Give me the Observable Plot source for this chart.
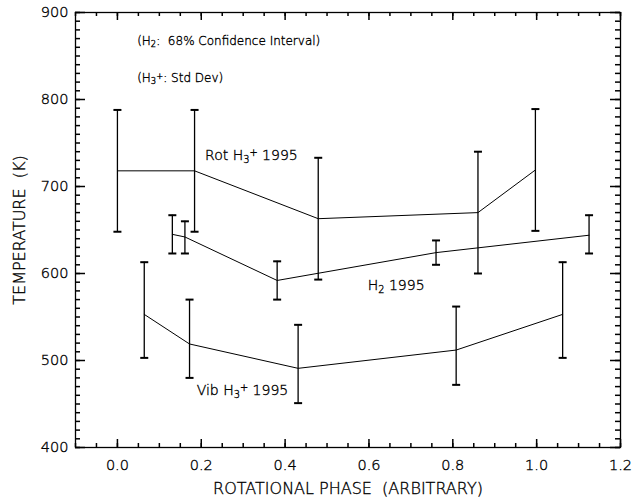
<!DOCTYPE html>
<html><head><meta charset="utf-8">
<script src="https://cdn.jsdelivr.net/npm/d3@7"></script>
<script src="https://cdn.jsdelivr.net/npm/@observablehq/plot@0.6"></script>
<style>
body{margin:0;background:#fff}
#chart svg{font-family:'DejaVu Sans',sans-serif;font-weight:200;color:black;background:white}
#chart svg text{white-space:pre; stroke:black; stroke-width:0.35px; fill:black}
</style>
</head><body><div id="chart"></div>
<script>
// Rot H3+ 1995
const rotX  = [0.000, 0.184, 0.479, 0.860, 0.997];
const rotY  = [718, 718, 663, 670, 719];
const rotLo = [648, 648, 593, 600, 649];
const rotHi = [788, 788, 733, 740, 789];
// H2 1995
const h2X  = [0.131, 0.161, 0.381, 0.760, 1.125];
const h2Y  = [645, 642, 592, 624, 644];
const h2Lo = [623, 623, 570, 610, 623];
const h2Hi = [667, 660, 614, 638, 667];
// Vib H3+ 1995
const vibX  = [0.064, 0.172, 0.431, 0.808, 1.062];
const vibY  = [553, 519, 491, 512, 553];
const vibLo = [503, 480, 451, 472, 503];
const vibHi = [613, 570, 541, 562, 613];

const xMajor = [0.0, 0.2, 0.4, 0.6, 0.8, 1.0, 1.2];
const yMajor = [400, 500, 600, 700, 800, 900];
const xMinor = d3.range(-2, 25).map(i => +(i * 0.05).toFixed(2));
const yMinor = d3.range(40, 91).map(i => i * 10);

const seriesLabels = ["Rot H_{3}^{+} 1995", "H_{2} 1995", "Vib H_{3}^{+} 1995"];
const seriesLabelX = [0.209, 0.597, 0.189];
const seriesLabelY = [736, 586, 465];
const notes = ["(H_{2}:  68% Confidence Interval)", "(H_{3}^{+}: Std Dev)"];
const noteX = [0.047, 0.047];
const noteY = [867, 825];
const xLabel = "ROTATIONAL PHASE  (ARBITRARY)";
const yLabel = "TEMPERATURE  (K)";

function rows(name, xs, ys, lo, hi) {
  return xs.map((x, i) => ({series: name, x, y: ys[i], lo: lo[i], hi: hi[i]}));
}
const data = [
  ...rows("rot", rotX, rotY, rotLo, rotHi),
  ...rows("h2", h2X, h2Y, h2Lo, h2Hi),
  ...rows("vib", vibX, vibY, vibLo, vibHi)
];
const labelRows = seriesLabels.map((t, i) => ({t, x: seriesLabelX[i], y: seriesLabelY[i]}));
const noteRows = notes.map((t, i) => ({t, x: noteX[i], y: noteY[i]}));

const W = 632, H = 497, ML = 75, MR = 12, MT = 12, MB = 50;
const FW = W - ML - MR, FH = H - MT - MB;
const cap = {draw(context) { context.moveTo(-4, 0); context.lineTo(4, 0); }};
const tickStyle = {stroke: "black", strokeWidth: 1.5};

const chart = Plot.plot({
  width: W, height: H,
  marginLeft: ML, marginRight: MR, marginTop: MT, marginBottom: MB,
  x: {domain: [-0.1, 1.2]},
  y: {domain: [400, 900]},
  marks: [
    Plot.ruleX(xMajor, {x: d => d, insetTop: FH - 8, ...tickStyle}),
    Plot.ruleX(xMinor, {x: d => d, insetTop: FH - 4, ...tickStyle}),
    Plot.ruleX(xMajor, {x: d => d, insetBottom: FH - 8, ...tickStyle}),
    Plot.ruleX(xMinor, {x: d => d, insetBottom: FH - 4, ...tickStyle}),
    Plot.ruleY(yMajor, {y: d => d, insetRight: FW - 10, ...tickStyle}),
    Plot.ruleY(yMinor, {y: d => d, insetRight: FW - 5, ...tickStyle}),
    Plot.ruleY(yMajor, {y: d => d, insetLeft: FW - 10, ...tickStyle}),
    Plot.ruleY(yMinor, {y: d => d, insetLeft: FW - 5, ...tickStyle}),
    Plot.frame({stroke: "black", strokeWidth: 1.3}),
    Plot.axisX({ticks: xMajor, tickSize: 0, tickPadding: 12, tickFormat: d3.format(".1f"), label: null, fontSize: 14.5}),
    Plot.axisY({ticks: yMajor, tickSize: 0, tickPadding: 7, tickFormat: d3.format("d"), label: null, fontSize: 14.5}),
    Plot.ruleX(data, {x: "x", y1: "lo", y2: "hi", stroke: "black", strokeWidth: 1.3}),
    Plot.dot(data, {x: "x", y: "lo", symbol: cap, stroke: "black", strokeWidth: 2, fill: "none"}),
    Plot.dot(data, {x: "x", y: "hi", symbol: cap, stroke: "black", strokeWidth: 2, fill: "none"}),
    Plot.line(data, {x: "x", y: "y", z: "series", stroke: "black", strokeWidth: 1}),
    Plot.text(labelRows, {x: "x", y: "y", text: "t", textAnchor: "start", fontSize: 14, className: "rich"}),
    Plot.text(noteRows, {x: "x", y: "y", text: "t", textAnchor: "start", fontSize: 12, className: "rich"}),
    Plot.text([xLabel], {frameAnchor: "bottom", textAnchor: "middle", lineAnchor: "middle", dy: 41, fontSize: 16}),
    Plot.text([yLabel], {frameAnchor: "left", textAnchor: "middle", lineAnchor: "middle", dx: -56, rotate: -90, fontSize: 16})
  ]
});

// render sub/superscripts
d3.select(chart).selectAll(".rich text").each(function() {
  const el = this;
  const s = el.textContent;
  if (!/[_^]\{/.test(s)) return;
  el.textContent = "";
  const re = /_\{([^}]*)\}|\^\{([^}]*)\}|([^_^]+)/g;
  let m;
  while ((m = re.exec(s))) {
    const ts = document.createElementNS("http://www.w3.org/2000/svg", "tspan");
    if (m[1] !== undefined) {
      ts.textContent = m[1];
      ts.setAttribute("baseline-shift", "-25%");
      ts.setAttribute("font-size", "70%");
    } else if (m[2] !== undefined) {
      ts.textContent = m[2];
      ts.setAttribute("baseline-shift", "40%");
      ts.setAttribute("font-size", "70%");
    } else {
      ts.textContent = m[3];
    }
    el.appendChild(ts);
  }
});

document.getElementById("chart").appendChild(chart);
</script>
</body></html>
